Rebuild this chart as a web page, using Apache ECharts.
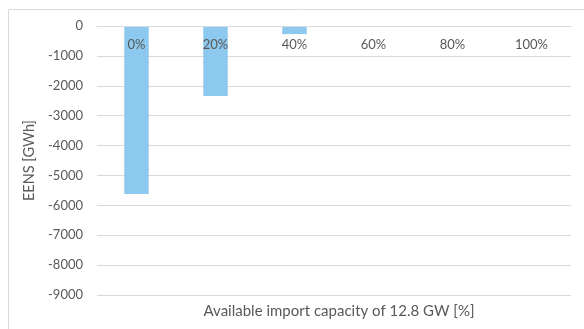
<!DOCTYPE html>
<html>
<head>
<meta charset="utf-8">
<script src="https://cdn.jsdelivr.net/npm/echarts@6/dist/echarts.min.js"></script>
<style>
  html, body { margin: 0; padding: 0; background: #fff; }
  #chart { width: 584px; height: 329px; }
</style>
</head>
<body>
<div id="chart"></div>
<script>
// Import capacity scenarios and the resulting change in energy not served
const categories = ['0%', '20%', '40%', '60%', '80%', '100%'];
const eensValues = [-5620, -2340, -270, -20, 0, 0];
const yTicks = { min: -9000, max: 0, step: 1000 };

const textColor = '#595959';
const lineColor = '#D9D9D9';
const fontFamily = 'Lato, "Open Sans", sans-serif';

const chart = echarts.init(document.getElementById('chart'), null, { renderer: 'canvas' });

chart.setOption({
  animation: false,
  backgroundColor: '#ffffff',
  textStyle: { fontFamily: fontFamily },
  grid: { left: 97, right: 13, top: 26, bottom: 34, containLabel: false },
  graphic: [{
    type: 'rect',
    shape: { x: 8.5, y: 9.5, width: 700, height: 500 },
    style: { fill: 'none', stroke: lineColor, lineWidth: 1 },
    silent: true
  }],
  title: {
    text: 'Available import capacity of 12.8 GW [%]',
    left: 334,
    top: 299,
    textAlign: 'center',
    textStyle: { fontFamily: fontFamily, fontSize: 15, fontWeight: 'normal', color: textColor }
  },
  // Category axis sits on the zero line at the top, labels hang below it over the bars
  xAxis: {
    type: 'category',
    position: 'top',
    z: 10,
    data: categories,
    axisLine: { lineStyle: { color: lineColor } },
    axisTick: { show: false },
    axisLabel: { inside: true, color: textColor, fontSize: 13, margin: 12, fontFamily: fontFamily },
    splitLine: { show: false }
  },
  yAxis: {
    type: 'value',
    min: yTicks.min,
    max: yTicks.max,
    interval: yTicks.step,
    name: 'EENS [GWh]',
    nameLocation: 'middle',
    nameGap: 47,
    nameTextStyle: { color: textColor, fontSize: 14.5, fontFamily: fontFamily },
    axisLine: { show: false },
    axisTick: { show: false },
    axisLabel: {
      color: textColor, fontSize: 13, margin: 14, fontFamily: fontFamily,
      formatter: (v) => String(v)
    },
    splitLine: { lineStyle: { color: lineColor, width: 1 } }
  },
  series: [{
    type: 'bar',
    z: 2,
    data: eensValues,
    barWidth: '31%',
    itemStyle: { color: '#8DC8EE' }
  }]
});
</script>
</body>
</html>
